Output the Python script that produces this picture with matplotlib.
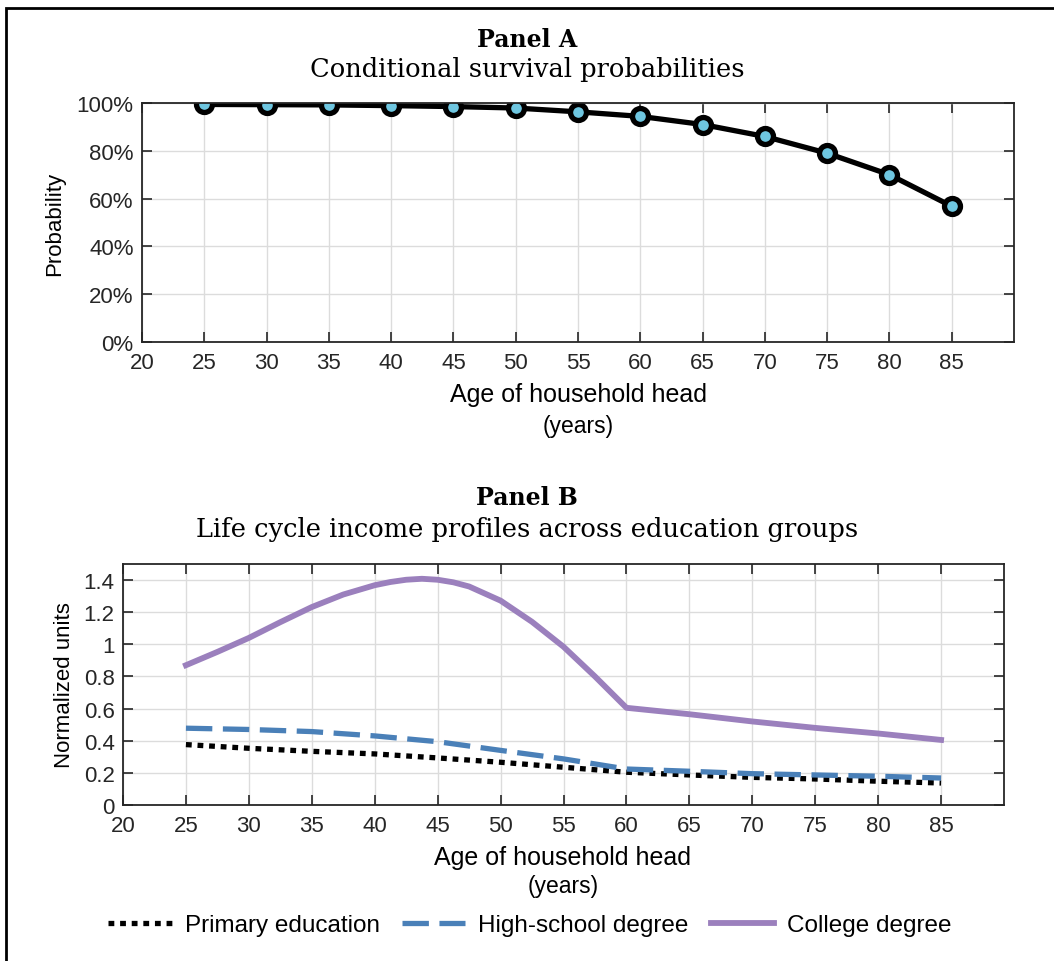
import numpy as np
import matplotlib
matplotlib.use("Agg")
import matplotlib.pyplot as plt
from matplotlib.patches import Rectangle
from matplotlib.ticker import PercentFormatter

# Panel A: conditional survival probabilities
ages_a = [25, 30, 35, 40, 45, 50, 55, 60, 65, 70, 75, 80, 85]
survival = [0.994, 0.993, 0.992, 0.989, 0.985, 0.979, 0.963, 0.944, 0.91, 0.86, 0.79, 0.70, 0.568]

# Panel B: income profiles
ages_college = [25, 27.5, 30, 32.5, 35, 37.5, 40, 41.25, 42.5, 43.75, 45, 46.25, 47.5, 50,
                52.5, 55, 57.5, 60, 65, 70, 75, 80, 85]
college = [0.870, 0.953, 1.040, 1.138, 1.232, 1.310, 1.368, 1.388, 1.402, 1.408, 1.402, 1.386,
           1.360, 1.272, 1.140, 0.985, 0.800, 0.605, 0.565, 0.52, 0.48, 0.445, 0.405]
ages_b = [25, 30, 35, 40, 45, 50, 55, 60, 65, 70, 75, 80, 85]
highschool = [0.478, 0.47, 0.457, 0.43, 0.394, 0.34, 0.287, 0.224, 0.21, 0.195, 0.187, 0.179, 0.168]
primary = [0.376, 0.353, 0.334, 0.318, 0.293, 0.266, 0.235, 0.204, 0.187, 0.172, 0.162, 0.148, 0.137]

xticks = np.arange(20, 90, 5)

W, H = 1054, 962
fig = plt.figure(figsize=(W / 100, H / 100), dpi=100)

sans = ['Liberation Sans', 'DejaVu Sans']
serif = ['DejaVu Serif']
plt.rcParams['font.family'] = sans


def style_axes(ax):
    for s in ax.spines.values():
        s.set_color('#262626')
        s.set_linewidth(1.3)
    ax.tick_params(direction='in', top=True, right=True, length=7, width=1.2,
                   labelsize=16, colors='#262626', labelcolor='#262626')
    ax.tick_params(axis='x', pad=7)
    ax.tick_params(axis='y', pad=6)
    ax.grid(True, color='#dcdcdc', linewidth=1)
    ax.set_axisbelow(True)
    ax.set_xlim(20, 90)
    ax.set_xticks(xticks)


def fx(px):
    return px / W


def fy(py):
    return 1 - py / H


# Panel A
ax1 = fig.add_axes([fx(142), fy(343), fx(1014 - 142), (343 - 104) / H])
style_axes(ax1)
ax1.plot(ages_a, survival, color='black', linewidth=3.8, marker='o', markersize=11.5,
         markerfacecolor='#6ec6e0', markeredgecolor='black', markeredgewidth=3.8)
ax1.set_ylim(0, 1)
ax1.set_yticks(np.arange(0, 1.01, 0.2))
ax1.yaxis.set_major_formatter(PercentFormatter(1.0, decimals=0))
ax1.set_ylabel('Probability', fontsize=16, labelpad=8)

fig.text(0.5, fy(40), 'Panel A', ha='center', va='center', family=serif,
         fontsize=17, fontweight='bold')
fig.text(0.5, fy(70), 'Conditional survival probabilities', ha='center', va='center',
         family=serif, fontsize=18.5)
fig.text(fx(578), fy(395), 'Age of household head', ha='center', va='center', fontsize=18)
fig.text(fx(578), fy(427), '(years)', ha='center', va='center', fontsize=16.5)

# Panel B
ax2 = fig.add_axes([fx(123), fy(806), fx(1004 - 123), (806 - 565) / H])
style_axes(ax2)
ax2.plot(ages_b, primary, color='black', linewidth=3.8, linestyle=(0, (1.1, 1.1)),
         dash_capstyle='butt', label='Primary education')
ax2.plot(ages_b, highschool, color='#4a80b8', linewidth=3.8, linestyle=(0, (5, 2)),
         label='High-school degree')
ax2.plot(ages_college, college, color='#9b80bd', linewidth=4.2, solid_joinstyle='round',
         label='College degree')
ax2.set_ylim(0, 1.5)
ax2.set_yticks(np.arange(0, 1.41, 0.2))
ax2.set_yticklabels(['0', '0.2', '0.4', '0.6', '0.8', '1', '1.2', '1.4'])
ax2.set_ylabel('Normalized units', fontsize=16, labelpad=6)

fig.text(0.5, fy(498), 'Panel B', ha='center', va='center', family=serif,
         fontsize=17, fontweight='bold')
fig.text(0.5, fy(530), 'Life cycle income profiles across education groups', ha='center',
         va='center', family=serif, fontsize=18.5)
fig.text(fx(563), fy(858), 'Age of household head', ha='center', va='center', fontsize=18)
fig.text(fx(563), fy(887), '(years)', ha='center', va='center', fontsize=16.5)

fig.legend(loc='center', bbox_to_anchor=(fx(530), fy(926)), ncol=3, frameon=False,
           fontsize=17.5, handlelength=2.6, columnspacing=0.9, handletextpad=0.55)

# frame around the figure (left and top edges visible)
fig.patches.append(Rectangle((fx(6), -0.1), 1.2, fy(9) + 0.1, transform=fig.transFigure,
                             fill=False, edgecolor='black', linewidth=2))

fig.savefig('out.png', dpi=100)
